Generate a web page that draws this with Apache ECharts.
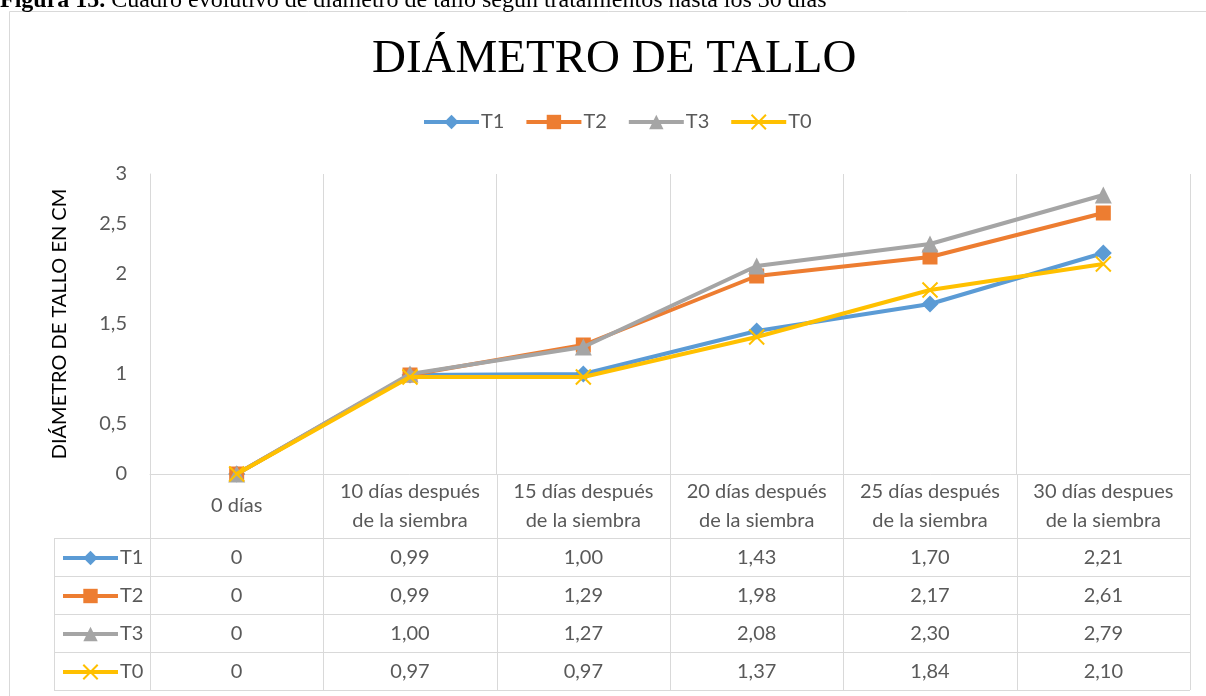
<!DOCTYPE html>
<html>
<head>
<meta charset="utf-8">
<script src="https://cdn.jsdelivr.net/npm/echarts@6/dist/echarts.min.js"></script>
<style>
  html, body { margin: 0; padding: 0; background: #fff; }
  #chart-diametro { width: 1206px; height: 696px; }
</style>
</head>
<body>
<div id="chart-diametro"></div>
<script>
var categorias = [
  "0 días",
  "10 días después\nde la siembra",
  "15 días después\nde la siembra",
  "20 días después\nde la siembra",
  "25 días después\nde la siembra",
  "30 días despues\nde la siembra"
];
var nombres = ["T1", "T2", "T3", "T0"];
var valoresT1 = [0, 0.99, 1.0, 1.43, 1.7, 2.21];
var valoresT2 = [0, 0.99, 1.29, 1.98, 2.17, 2.61];
var valoresT3 = [0, 1.0, 1.27, 2.08, 2.3, 2.79];
var valoresT0 = [0, 0.97, 0.97, 1.37, 1.84, 2.1];
var ejeYMin = 0, ejeYMax = 3, ejeYPaso = 0.5;

var valores = [valoresT1, valoresT2, valoresT3, valoresT0];
var colores = ["#5b9bd5", "#ed7d31", "#a5a5a5", "#ffc000"];
var simbolos = ["diamond", "rect", "triangle", "path://M0,0L10,10M10,0L0,10"];
var tamanos = [17, 15, 17, 15];

/* layout */
var W = 1206, H = 696;
var gLeft = 150, gRight = 16, gTop = 174, gBottom = 222;
var ejeY0 = H - gBottom;        // 474
var cabeceraFin = 538;
var filaAlto = 38;
var tablaIzq = 54;
var lineaGris = "#d9d9d9";
var textoGris = "#595959";
var fuente = "Lato, 'Open Sans', sans-serif";
var tamTexto = 20;

function fmt(v) {
  return v === 0 ? "0" : v.toFixed(2).replace(".", ",");
}

var chartDom = document.getElementById("chart-diametro");
var myChart = echarts.init(chartDom, null, { renderer: "canvas" });

// la ultima serie queda encima, como en excel
var series = nombres.map(function (n, i) {
  return {
    name: n,
    type: "line",
    data: valores[i],
    symbol: simbolos[i],
    symbolSize: tamanos[i],
    showAllSymbol: true,
    z: 2 + i,
    lineStyle: { color: colores[i], width: 4 },
    itemStyle: i === 3
      ? { color: colores[i], borderColor: colores[i], borderWidth: 2 }
      : { color: colores[i], borderWidth: 0 },
    emphasis: { disabled: true },
    animation: false
  };
});

var leyendaComun = {
  data: nombres,
  itemWidth: 55,
  itemHeight: 18,
  lineStyle: { width: 4 },
  textStyle: { color: textoGris, fontSize: tamTexto, lineHeight: 20, padding: [0, 0, 0, -3] }
};

var option = {
  animation: false,
  textStyle: { fontFamily: fuente },
  title: {
    text: "DIÁMETRO DE TALLO",
    left: 367,
    top: 31,
    textStyle: {
      fontFamily: "'Liberation Serif', 'Times New Roman', serif",
      fontSize: 47,
      fontWeight: "normal",
      color: "#000"
    }
  },
  legend: [
    echarts.util.merge({ left: 417, top: 107, itemGap: 20 }, leyendaComun),
    echarts.util.merge({ orient: "vertical", left: 56, top: 543, itemGap: 18 }, leyendaComun)
  ],
  grid: { left: gLeft, right: gRight, top: gTop, bottom: gBottom, containLabel: false },
  xAxis: {
    type: "category",
    data: categorias,
    boundaryGap: true,
    axisLine: { show: true, lineStyle: { color: lineaGris, width: 1 } },
    axisTick: { show: false },
    splitLine: { show: true, lineStyle: { color: lineaGris, width: 1 } },
    axisLabel: {
      color: textoGris,
      fontSize: tamTexto,
      lineHeight: 29,
      margin: 32,
      verticalAlign: "middle",
      interval: 0
    }
  },
  yAxis: {
    type: "value",
    min: ejeYMin,
    max: ejeYMax,
    interval: ejeYPaso,
    name: "DIÁMETRO DE TALLO EN CM",
    nameLocation: "middle",
    nameGap: 80,
    nameTextStyle: { color: "#000", fontSize: 20 },
    axisLine: { show: true, lineStyle: { color: lineaGris } },
    axisTick: { show: false },
    splitLine: { show: false },
    axisLabel: {
      color: textoGris,
      fontSize: tamTexto,
      margin: 23,
      formatter: function (v) { return String(v).replace(".", ","); }
    }
  },
  series: series
};

myChart.setOption(option);

/* tabla de datos debajo del grafico */
var graficos = [];
var xFin = W - gRight;
var nFilas = nombres.length;
var tablaFin = cabeceraFin + filaAlto * nFilas;

// borde exterior
graficos.push({
  type: "rect",
  shape: { x: 9.5, y: 11.5, width: W + 10, height: H + 10 },
  style: { fill: null, stroke: lineaGris, lineWidth: 1 },
  silent: true
});

// leyenda de la figura (cortada arriba)
graficos.push({
  type: "text",
  x: 0,
  y: 13,
  style: {
    text: "{b|Figura 15.} Cuadro evolutivo de diámetro de tallo según tratamientos hasta los 30 días",
    font: "24px 'Liberation Serif', 'Times New Roman', serif",
    fill: "#000",
    verticalAlign: "bottom",
    rich: { b: { fontWeight: "bold", fontSize: 24, fontFamily: "'Liberation Serif', serif" } }
  },
  silent: true
});

// lineas horizontales de la tabla
for (var r = 0; r <= nFilas; r++) {
  var yy = cabeceraFin + r * filaAlto + 0.5;
  graficos.push({
    type: "line",
    shape: { x1: tablaIzq, y1: yy, x2: xFin, y2: yy },
    style: { stroke: lineaGris, lineWidth: 1 },
    silent: true
  });
}

// lineas verticales
var bordes = [];
for (var c = 0; c < categorias.length; c++) {
  var px = myChart.convertToPixel({ xAxisIndex: 0 }, c);
  var medio = (xFin - gLeft) / categorias.length / 2;
  bordes.push(px - medio);
  if (c === categorias.length - 1) bordes.push(px + medio);
}
bordes.forEach(function (bx) {
  var xx = Math.round(bx) + 0.5;
  graficos.push({
    type: "line",
    shape: { x1: xx, y1: ejeY0, x2: xx, y2: tablaFin },
    style: { stroke: lineaGris, lineWidth: 1 },
    silent: true
  });
});
graficos.push({
  type: "line",
  shape: { x1: tablaIzq + 0.5, y1: cabeceraFin, x2: tablaIzq + 0.5, y2: tablaFin },
  style: { stroke: lineaGris, lineWidth: 1 },
  silent: true
});

// valores
valores.forEach(function (fila, r) {
  var cy = cabeceraFin + r * filaAlto + filaAlto / 2 + 1;
  fila.forEach(function (v, c) {
    var cx = myChart.convertToPixel({ xAxisIndex: 0 }, c);
    graficos.push({
      type: "text",
      x: cx,
      y: cy,
      style: {
        text: fmt(v),
        font: tamTexto + "px " + fuente,
        fill: textoGris,
        align: "center",
        verticalAlign: "middle"
      },
      silent: true
    });
  });
});

myChart.setOption({ graphic: graficos });
</script>
</body>
</html>
